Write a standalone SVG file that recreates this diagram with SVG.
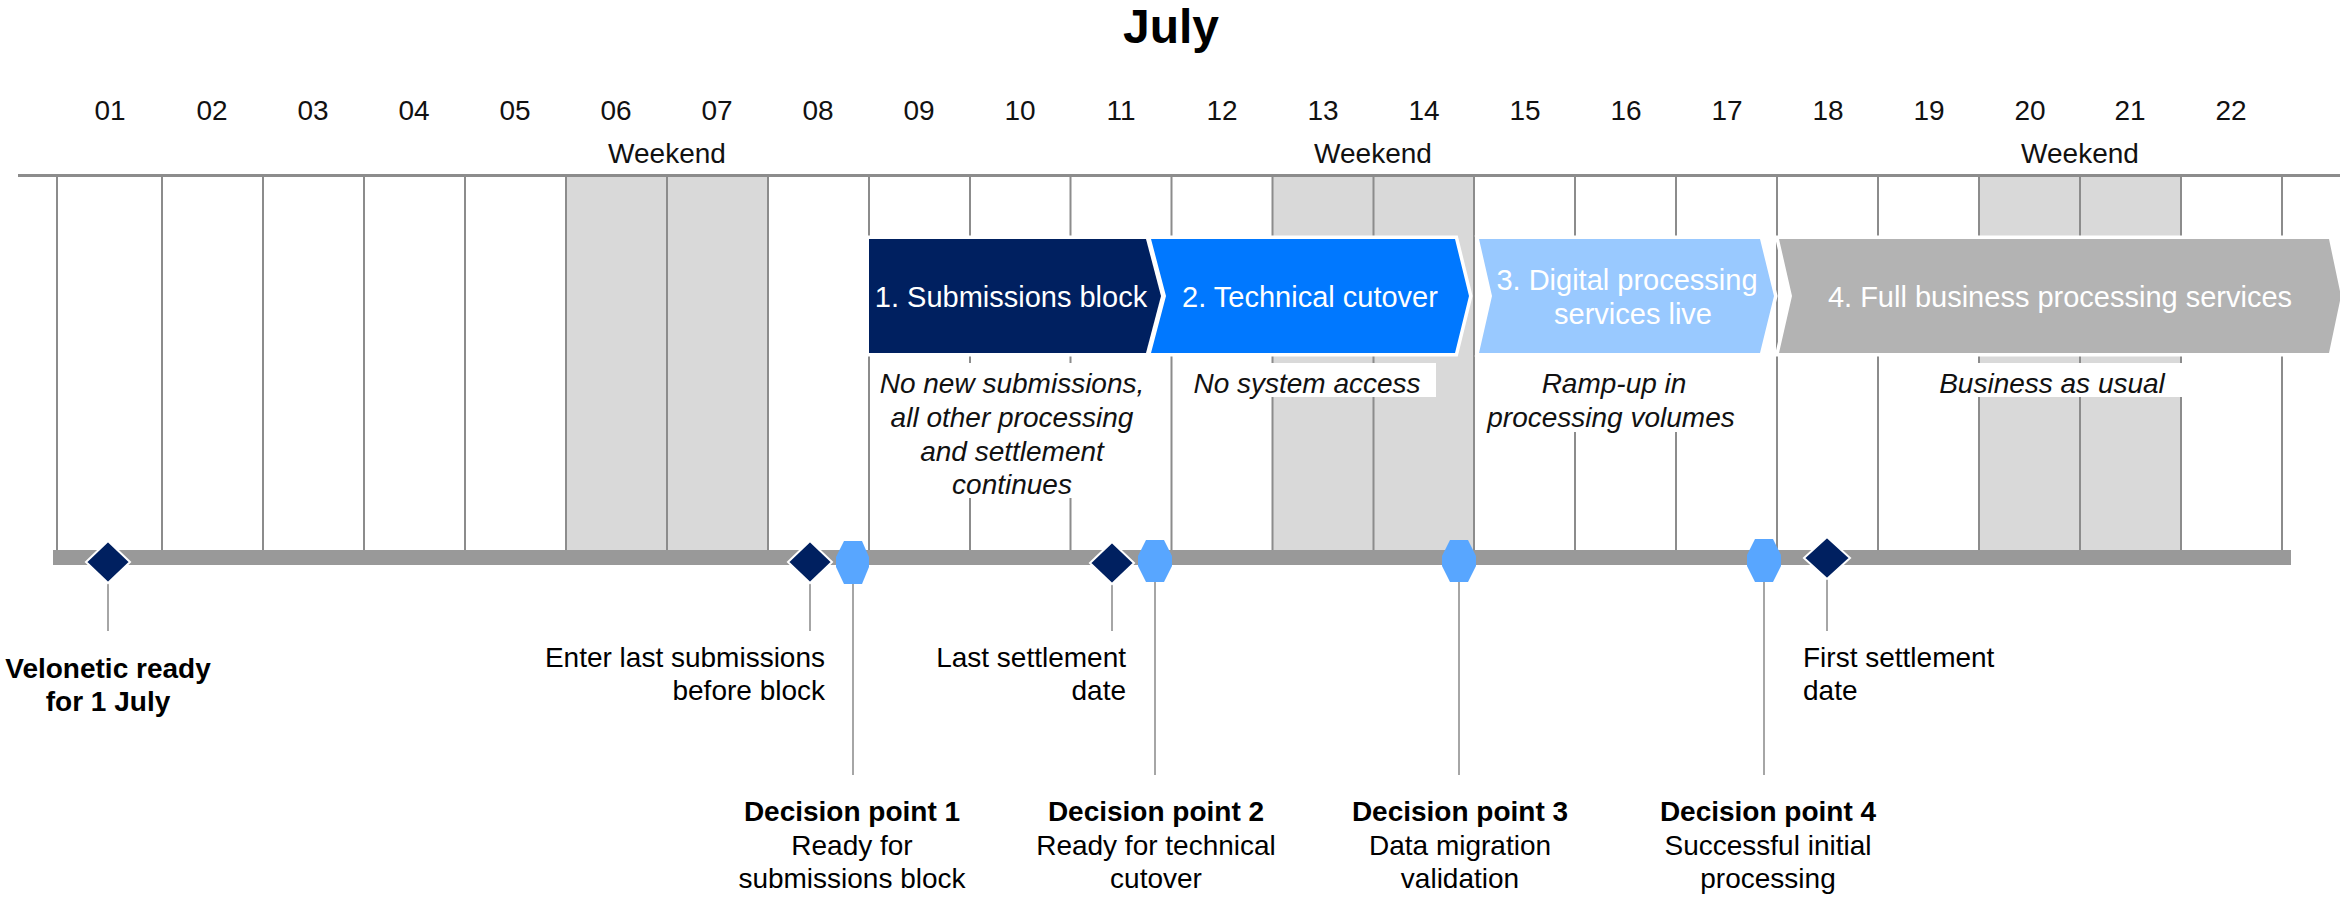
<svg xmlns="http://www.w3.org/2000/svg" width="2340" height="902" viewBox="0 0 2340 902">
  <style>
    text { font-family: "Liberation Sans", Arial, Helvetica, sans-serif; font-size: 28px; fill: #000; }
    .title { font-size: 48px; font-weight: bold; text-anchor: middle; }
    .day { text-anchor: middle; fill: #111; }
    .wk { text-anchor: middle; fill: #111; }
    .c { text-anchor: middle; }
    .r { text-anchor: end; }
    .b { font-weight: bold; }
    .it { font-style: italic; text-anchor: middle; fill: #111; }
    .phase { font-size: 29px; fill: #fff; text-anchor: middle; }
    .shade { fill: #d9d9d9; }
    .grid { stroke: #8c8c8c; stroke-width: 2; }
    .note-bg { fill: #fff; }
    .chev { stroke: #fff; stroke-width: 7; paint-order: stroke; stroke-linejoin: miter; }
    .leader { stroke: #a6a6a6; stroke-width: 2; fill: none; }
    .milestone { fill: #002060; stroke: #fff; stroke-width: 2; }
    .decision { fill: #58a6ff; }
  </style>

  <!-- Month heading -->
  <text class="title" x="1171" y="43">July</text>

  <!-- Day numbers -->
  <g id="days">
    <text class="day" x="110" y="120">01</text>
    <text class="day" x="212" y="120">02</text>
    <text class="day" x="313" y="120">03</text>
    <text class="day" x="414" y="120">04</text>
    <text class="day" x="515" y="120">05</text>
    <text class="day" x="616" y="120">06</text>
    <text class="day" x="717" y="120">07</text>
    <text class="day" x="818" y="120">08</text>
    <text class="day" x="919" y="120">09</text>
    <text class="day" x="1020" y="120">10</text>
    <text class="day" x="1121" y="120">11</text>
    <text class="day" x="1222" y="120">12</text>
    <text class="day" x="1323" y="120">13</text>
    <text class="day" x="1424" y="120">14</text>
    <text class="day" x="1525" y="120">15</text>
    <text class="day" x="1626" y="120">16</text>
    <text class="day" x="1727" y="120">17</text>
    <text class="day" x="1828" y="120">18</text>
    <text class="day" x="1929" y="120">19</text>
    <text class="day" x="2030" y="120">20</text>
    <text class="day" x="2130" y="120">21</text>
    <text class="day" x="2231" y="120">22</text>
    <text class="wk" x="667" y="163">Weekend</text>
    <text class="wk" x="1373" y="163">Weekend</text>
    <text class="wk" x="2080" y="163">Weekend</text>
  </g>

  <!-- Calendar grid -->
  <g id="grid">
    <rect class="shade" x="566" y="177" width="202" height="373"/>
    <rect class="shade" x="1272" y="177" width="202" height="373"/>
    <rect class="shade" x="1979" y="177" width="202" height="373"/>
    <path class="grid" d="M57 177V550 M162 177V550 M263 177V550 M364 177V550 M465 177V550 M566 177V550 M667 177V550 M768 177V550 M869 177V550 M970 177V550 M1070.5 177V550 M1171.5 177V550 M1272.5 177V550 M1373.5 177V550 M1474 177V550 M1575 177V550 M1676 177V550 M1777 177V550 M1878 177V550 M1979 177V550 M2080 177V550 M2181 177V550 M2282 177V550"/>
    <rect x="18" y="174" width="2322" height="3" fill="#8c8c8c"/>
  </g>

  <!-- Backgrounds behind phase notes -->
  <g id="note-backgrounds">
    <rect class="note-bg" x="872" y="363" width="294" height="135"/>
    <rect class="note-bg" x="1173" y="363" width="263" height="34"/>
    <rect class="note-bg" x="1478" y="356" width="295" height="76"/>
    <rect class="note-bg" x="1925" y="363" width="262" height="34"/>
  </g>

  <!-- Phases -->
  <g id="phase-1">
    <path class="chev" fill="#002060" d="M869 239H1146L1161 296L1146 353H869Z"/>
    <text class="phase" x="1011" y="307">1. Submissions block</text>
    <text class="it" x="1012" y="393">No new submissions,</text>
    <text class="it" x="1012" y="427">all other processing</text>
    <text class="it" x="1012" y="461">and settlement</text>
    <text class="it" x="1012" y="494">continues</text>
  </g>
  <g id="phase-2">
    <path class="chev" fill="#0078ff" d="M1151 239H1455L1469 296L1455 353H1151L1166 296Z"/>
    <text class="phase" x="1310" y="307">2. Technical cutover</text>
    <text class="it" x="1307" y="393">No system access</text>
  </g>
  <g id="phase-3">
    <path class="chev" fill="#99c9ff" d="M1479 239H1760L1774 296L1760 353H1479L1492 296Z"/>
    <text class="phase" x="1627" y="290">3. Digital processing</text>
    <text class="phase" x="1633" y="324">services live</text>
    <text class="it" x="1614" y="393">Ramp-up in</text>
    <text class="it" x="1611" y="427">processing volumes</text>
  </g>
  <g id="phase-4">
    <path class="chev" fill="#b3b3b3" d="M1779 239H2329L2341 296L2329 353H1779L1792 296Z"/>
    <text class="phase" x="2060" y="307">4. Full business processing services</text>
    <text class="it" x="2052" y="393">Business as usual</text>
  </g>

  <!-- Timeline bar -->
  <rect id="timeline" x="53" y="550" width="2238" height="15" fill="#999999"/>

  <!-- Leader lines from markers to their labels -->
  <g id="connectors">
    <path class="leader" d="M108 583V631"/>
    <path class="leader" d="M810 583V631"/>
    <path class="leader" d="M1112 584V631"/>
    <path class="leader" d="M1827 579V631"/>
    <path class="leader" d="M853 584V775"/>
    <path class="leader" d="M1155 582V775"/>
    <path class="leader" d="M1459 582V775"/>
    <path class="leader" d="M1764 582V775"/>
  </g>

  <!-- Milestones -->
  <g id="ms-ready">
    <path class="milestone" d="M108 541L130 562L108 583L86 562Z"/>
    <text class="c b" x="108" y="678">Velonetic ready</text>
    <text class="c b" x="108" y="711">for 1 July</text>
  </g>
  <g id="ms-last-submissions">
    <path class="milestone" d="M810 541L832 562L810 583L788 562Z"/>
    <text class="r" x="825" y="667">Enter last submissions</text>
    <text class="r" x="825" y="700">before block</text>
  </g>
  <g id="ms-last-settlement">
    <path class="milestone" d="M1112 542L1134 563L1112 584L1090 563Z"/>
    <text class="r" x="1126" y="667">Last settlement</text>
    <text class="r" x="1126" y="700">date</text>
  </g>
  <g id="ms-first-settlement">
    <path class="milestone" d="M1827 537L1850 558L1827 579L1804 558Z"/>
    <text x="1803" y="667">First settlement</text>
    <text x="1803" y="700">date</text>
  </g>

  <!-- Decision points -->
  <g id="dp-1">
    <path class="decision" d="M844 541H862L869 557V567L862 584H844L836 567V557Z"/>
    <text class="c b" x="852" y="821">Decision point 1</text>
    <text class="c" x="852" y="855">Ready for</text>
    <text class="c" x="852" y="888">submissions block</text>
  </g>
  <g id="dp-2">
    <path class="decision" d="M1146 540H1164L1172 556V566L1164 582H1146L1138 566V556Z"/>
    <text class="c b" x="1156" y="821">Decision point 2</text>
    <text class="c" x="1156" y="855">Ready for technical</text>
    <text class="c" x="1156" y="888">cutover</text>
  </g>
  <g id="dp-3">
    <path class="decision" d="M1450 540H1468L1476 556V566L1468 582H1450L1442 566V556Z"/>
    <text class="c b" x="1460" y="821">Decision point 3</text>
    <text class="c" x="1460" y="855">Data migration</text>
    <text class="c" x="1460" y="888">validation</text>
  </g>
  <g id="dp-4">
    <path class="decision" d="M1755 539H1773L1781 555V566L1773 582H1755L1747 566V555Z"/>
    <text class="c b" x="1768" y="821">Decision point 4</text>
    <text class="c" x="1768" y="855">Successful initial</text>
    <text class="c" x="1768" y="888">processing</text>
  </g>
</svg>
